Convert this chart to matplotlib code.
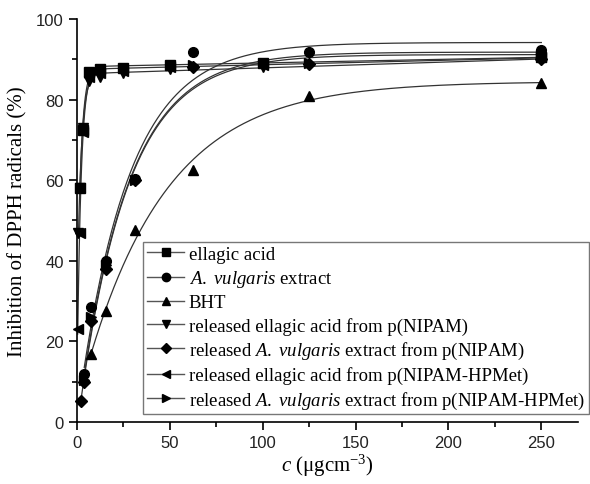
import numpy as np
import matplotlib
matplotlib.use('Agg')
from matplotlib import pyplot as plt
from matplotlib.ticker import MultipleLocator

# concentrations (ugcm-3) and inhibition (%)
c_ea = [1.56, 3.125, 6.25, 12.5, 25, 50, 100, 250]
y_ea = [58, 72.5, 86.8, 87.6, 87.8, 88.6, 89.2, 90.5]

c_av = [3.9, 7.8, 15.6, 31.25, 62.5, 125, 250]
y_av = [12, 28.5, 40, 60.3, 91.8, 91.9, 92.3]

c_bht = [7.8, 15.6, 31.25, 62.5, 125, 250]
y_bht = [17, 27.5, 47.7, 62.5, 81, 84]

c_ea_n = [0.78, 1.56, 3.125, 6.25, 12.5, 25, 50, 100, 250]
y_ea_n = [47, 58, 73, 84.5, 85.5, 86.5, 87.5, 88, 90]

c_av_n = [1.95, 3.9, 7.8, 15.6, 31.25, 62.5, 125, 250]
y_av_n = [5.2, 10, 25, 38, 60, 88.2, 88.8, 90]

c_ea_h = [0.39, 1.56, 3.125, 6.25, 12.5, 25, 50, 100, 250]
y_ea_h = [23, 47, 72, 85.5, 86.5, 87, 88, 88.5, 90.5]

c_av_h = [3.9, 7.8, 15.6, 31.25, 62.5, 125, 250]
y_av_h = [10.5, 26, 39, 60, 88.5, 89, 91]

labels = ['ellagic acid',
          r'$\it{A.\ vulgaris}$ extract',
          'BHT',
          'released ellagic acid from p(NIPAM)',
          r'released $\it{A.\ vulgaris}$ extract from p(NIPAM)',
          'released ellagic acid from p(NIPAM-HPMet)',
          r'released $\it{A.\ vulgaris}$ extract from p(NIPAM-HPMet)']
markers = ['s', 'o', '^', 'v', 'D', '<', '>']
series = [(c_ea, y_ea), (c_av, y_av), (c_bht, y_bht), (c_ea_n, y_ea_n),
          (c_av_n, y_av_n), (c_ea_h, y_ea_h), (c_av_h, y_av_h)]

'''
ajuste exponencial y = A + D*c - B*exp(-k*c)
'''
def ajuste(c, y):
    c = np.array(c, float)
    y = np.array(y, float)
    melhor = None
    for k in np.logspace(-3, 1, 800):
        M = np.column_stack([np.ones_like(c), c, -np.exp(-k * c)])
        p, *_ = np.linalg.lstsq(M, y, rcond=None)
        if p[1] < 0:
            M = M[:, [0, 2]]
            p, *_ = np.linalg.lstsq(M, y, rcond=None)
            p = np.array([p[0], 0.0, p[1]])
            M = np.column_stack([np.ones_like(c), c, -np.exp(-k * c)])
        err = np.sum((M @ p - y) ** 2)
        if melhor is None or err < melhor[0]:
            melhor = (err, k, p)
    _, k, p = melhor
    cc = np.linspace(c.min(), 250, 600)
    return cc, p[0] + p[1] * cc - p[2] * np.exp(-k * cc)

plt.rcParams['mathtext.fontset'] = 'custom'
plt.rcParams['mathtext.it'] = 'Liberation Serif:italic'
plt.rcParams['mathtext.rm'] = 'Liberation Serif'

fig = plt.figure(figsize=(5.9, 4.85), dpi=100)
ax = fig.add_axes([0.1305, 0.1278, 0.85, 0.831])

handles = []
for (c, y), m, lab in zip(series, markers, labels):
    cc, yy = ajuste(c, y)
    ax.plot(cc, yy, color='#333333', lw=0.9, clip_on=False)
    ms = 6 if m == 'D' else 7
    ax.plot(c, y, m, color='black', ms=ms, clip_on=False, zorder=3)
    h, = ax.plot([], [], color='#555555', lw=1, marker=m, mfc='black',
                 mec='black', ms=ms - 1, label=lab)
    handles.append(h)

ax.set_xlim(0, 270)
ax.set_ylim(0, 100)
ax.spines['top'].set_visible(False)
ax.spines['right'].set_visible(False)
ax.spines['left'].set_linewidth(1.2)
ax.spines['bottom'].set_linewidth(1.2)
ax.xaxis.set_major_locator(MultipleLocator(50))
ax.xaxis.set_minor_locator(MultipleLocator(25))
ax.yaxis.set_major_locator(MultipleLocator(20))
ax.yaxis.set_minor_locator(MultipleLocator(10))
ax.tick_params(which='major', length=6, width=1.2, labelsize=12,
               labelcolor='#222222')
ax.tick_params(which='minor', length=3.5, width=1.2)
for t in ax.get_xticklabels() + ax.get_yticklabels():
    t.set_fontfamily('Liberation Sans')

ax.set_xlabel(r'$\it{c}$ (μgcm$^{\mathregular{-3}}$)', fontsize=15,
              fontfamily='Liberation Serif', labelpad=1)
ax.set_ylabel('Inhibition of DPPH radicals (%)', fontsize=15,
              fontfamily='Liberation Serif', labelpad=6)

leg = ax.legend(handles=handles, loc='upper left',
                bbox_to_anchor=(143 / 590, 1 - 243 / 485),
                bbox_transform=fig.transFigure,
                prop={'family': 'Liberation Serif', 'size': 13.5},
                frameon=True, fancybox=False, edgecolor='#555555',
                handlelength=2.0, handletextpad=0.25, labelspacing=0.28,
                borderpad=0.2, borderaxespad=0)
leg.get_frame().set_linewidth(1)

plt.savefig('out.png', dpi=100)
